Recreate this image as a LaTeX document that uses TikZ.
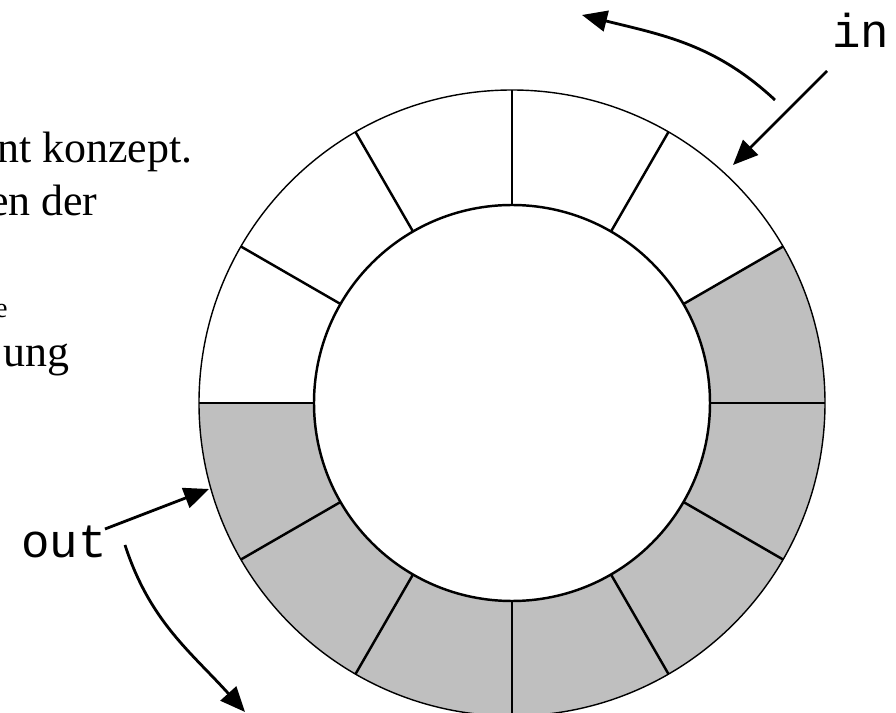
\documentclass[tikz,border=0pt]{standalone}
\usepackage{fontspec}
\setmainfont{Liberation Serif}
\setmonofont{Liberation Mono}
\usetikzlibrary{arrows.meta}
\definecolor{slotgray}{gray}{0.75}
\tikzset{>={Triangle[length=5mm,width=4.2mm]}}
\tikzset{ptr/.style={->,line width=1.6pt}}
\tikzset{txt/.style={inner sep=0pt,font=\fontsize{25}{30}\selectfont}}
\tikzset{lbl/.style={inner sep=0pt,font=\fontsize{27}{32}\selectfont\ttfamily}}

\begin{document}
\begin{tikzpicture}
        \useasboundingbox (-10.24,-6.20) rectangle (7.68,8.06);
        \clip (-10.24,-6.20) rectangle (7.68,8.06);
        \def\rout{6.26}
        \def\rin{3.96}
        \coordinate (c) at (0,0);

        % occupied slots of the ring
        \fill[slotgray] (30:\rout) arc (30:-180:\rout) -- (180:\rin) arc (-180:30:\rin) -- cycle;
        \draw[line width=0.8pt] (c) circle (\rout);
        \draw[line width=1.4pt] (c) circle (\rin);
        \foreach \a in {0,30,...,330}
            \draw[line width=1.4pt] (\a:\rin) -- (\a:\rout);

        \node[txt, anchor=base east] (t1) at (-6.38,4.80) {nt konzept.};
        \node[txt, anchor=base east] (t2) at (-8.28,3.74) {en der};
        \node[txt, anchor=base east, font=\fontsize{16}{19}\selectfont] (t3) at (-10.08,1.70) {e};
        \node[txt, anchor=base east] (t4) at (-8.84,0.72) {ung};

        \node[lbl, anchor=base west] (in) at (6.40,7.10) {in};
        \node[lbl, anchor=base east] (out) at (-8.10,-3.10) {out};

        \coordinate (wr1) at (6.30,6.64);
        \coordinate (wr2) at (4.42,4.76);
        \coordinate (wr3) at (5.26,6.06);
        \coordinate (wr4) at (1.40,7.76);
        \coordinate (rd1) at (-8.14,-2.52);
        \coordinate (rd2) at (-6.06,-1.72);
        \coordinate (rd3) at (-7.74,-2.84);
        \coordinate (rd4) at (-5.34,-6.18);

        \draw[ptr] (wr1) -- (wr2);
        \draw[ptr] (wr3) to[out=137, in=-14] (wr4);
        \draw[ptr] (rd1) -- (rd2);
        \draw[ptr] (rd3) to[out=-72, in=132] (rd4);
\end{tikzpicture}
\end{document}
